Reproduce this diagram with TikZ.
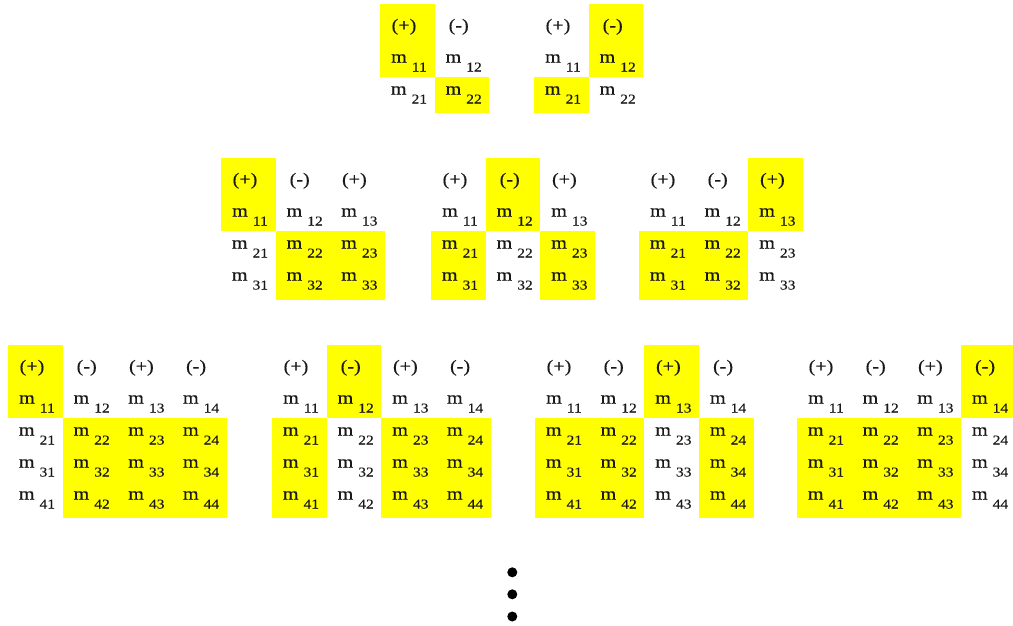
\documentclass[tikz,border=0pt]{standalone}
\usepackage{fontspec}
\setmainfont{Liberation Serif}[FakeStretch=1.15,FakeBold=0.3]
\definecolor{hlyellow}{RGB}{255,255,0}
\definecolor{txt}{RGB}{25,25,25}
\newcommand{\mainsz}{\fontsize{17.5}{17.5}\selectfont}
\newcommand{\subsz}{\fontsize{13.5}{13.5}\selectfont}
\def\cw{54.7}
\tikzset{
  hl/.style={fill=hlyellow},
  hdr/.style={font=\mainsz, inner sep=0pt, anchor=base, text=txt},
  ent/.style={font=\mainsz, inner sep=0pt, anchor=base, text=txt},
  bigdot/.style={circle, fill=black, inner sep=0pt, minimum size=10pt},
}
% #1 left, #2 top, #3 size n, #4 highlighted column k, #5 total height, #6 name prefix
\newcommand{\drawmat}[6]{%
  \fill[hl] ({#1+(#4-1)*\cw},{#2}) rectangle ({#1+#4*\cw},{#2+72.5});
  \ifnum#4>1 \fill[hl] ({#1},{#2+72.5}) rectangle ({#1+(#4-1)*\cw},{#2+#5});\fi
  \ifnum#4<#3 \fill[hl] ({#1+#4*\cw},{#2+72.5}) rectangle ({#1+#3*\cw},{#2+#5});\fi
  \foreach \j in {1,...,#3} {
    \node[hdr] (#6h\j) at ({#1+(\j-1)*\cw+24},{#2+27}) {\ifodd\j (+)\else (-)\fi};
    \foreach \i in {1,...,#3} {
      \node[ent] (#6m\i\j) at ({#1+(\j-1)*\cw+29},{#2+58.5+(\i-1)*32}) {m \raisebox{-9pt}{\subsz\i\j}};
    }
  }
}
\begin{document}
\begin{tikzpicture}[x=1pt,y=-1pt]
\useasboundingbox (0,0) rectangle (1013,625);
\clip (0,0) rectangle (1013,625);
% level 1: 2x2
\drawmat{380}{4}{2}{1}{109}{a}
\drawmat{534}{4}{2}{2}{109}{b}
% level 2: 3x3
\drawmat{221}{158}{3}{1}{142}{c}
\drawmat{431}{158}{3}{2}{142}{d}
\drawmat{639}{158}{3}{3}{142}{e}
% level 3: 4x4
\drawmat{8}{345}{4}{1}{173}{f}
\drawmat{272}{345}{4}{2}{173}{g}
\drawmat{535}{345}{4}{3}{173}{h}
\drawmat{797}{345}{4}{4}{173}{k}
% continuation dots
\node[bigdot] (dot1) at (512.3,572.3) {};
\node[bigdot] (dot2) at (512.3,594.3) {};
\node[bigdot] (dot3) at (512.3,616.5) {};
\end{tikzpicture}
\end{document}
